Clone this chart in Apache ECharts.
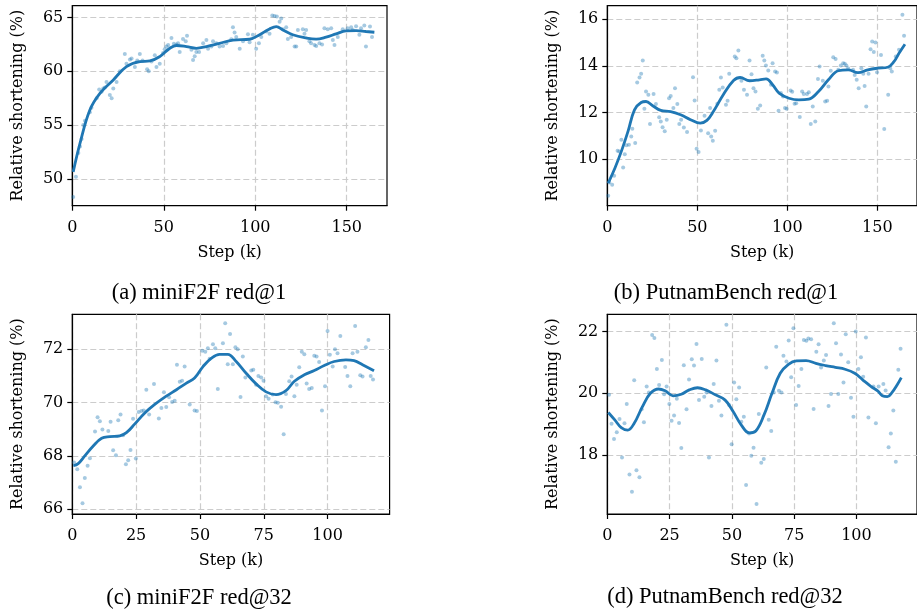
<!DOCTYPE html>
<html>
<head>
<meta charset="utf-8">
<script src="https://cdn.jsdelivr.net/npm/echarts@6/dist/echarts.min.js"></script>
<style>
html,body{margin:0;padding:0;background:#fff;}
#chart{width:917px;height:612px;}
</style>
</head>
<body>
<div id="chart"></div>
<script>
// ---------- Tick labels ----------
var xTicksLong = [0, 50, 100, 150];
var xTicksShort = [0, 25, 50, 75, 100];
var yTicksA = [50, 55, 60, 65];
var yTicksB = [10, 12, 14, 16];
var yTicksC = [66, 68, 70, 72];
var yTicksD = [18, 20, 22];

var captions = ['(a) miniF2F red@1', '(b) PutnamBench red@1', '(c) miniF2F red@32', '(d) PutnamBench red@32'];

// ---------- (a) miniF2F red@1 ----------
var aStep = [0.5,2,3.3,4.2,5.1,6,6.9,9.6,10.5,13.3,14.7,16,16.9,17.8,18.7,20.5,21.5,22.4,24.2,26,28.7,29.6,31.5,32.4,34.2,35.5,36.9,38.4,40.9,41.8,43.3,45.1,46,47.8,49.6,50.5,51.5,52.4,54.2,55.5,56.9,57.8,58.7,60.5,62,62.7,65.1,66,66.9,67.8,69.3,71.5,73.3,74.2,76,76.9,78.7,80.5,82.4,84.2,86.9,87.8,88.7,89.6,91.5,93.3,96,96.9,98.7,100.5,102,103.3,106,107.8,109.3,110.5,111.8,113.3,114.2,115.1,116.9,117.8,119.6,121.5,122.4,123.3,126,126.9,127.8,129.6,130.5,132.4,133.3,135.1,136.5,137.8,139.6,141.5,142.4,143.3,145.1,147.8,150.5,152.4,153.3,155.1,156.9,157.8,159.6,160.5,162.7,163.8];
var aShort = [48.3,50.2,52.4,53.0,53.7,55.0,55.4,56.2,56.6,57.5,58.3,58.1,58.4,58.5,59.0,57.8,57.5,58.4,59.0,60.0,61.6,60.7,61.1,61.2,60.4,61.0,61.6,61.0,60.2,60.0,60.9,61.5,60.4,60.7,61.7,62.05,62.3,62.45,63.1,62.55,62.5,62.6,61.8,63.0,62.8,63.3,62.0,61.05,61.4,61.8,61.8,62.6,62.9,62.1,62.3,62.8,62.6,62.3,62.35,62.6,62.98,64.1,63.6,63.2,62.1,62.8,63.45,62.7,63.4,62.1,62.6,63.2,63.7,63.5,65.2,65.15,65.1,64.6,64.9,63.9,64.1,63.0,63.2,62.3,62.3,63.85,63.9,63.5,63.85,62.8,62.6,62.45,62.35,62.6,62.5,64.0,63.9,64.0,62.9,62.45,63.2,63.9,64.0,64.1,63.85,64.2,63.4,64.0,64.25,62.3,64.16,63.2];
var aFitStep = [0.5,4.2,9.6,15.1,22.4,29.6,36.9,42.4,47.8,53.3,56.9,62.4,67.8,73.3,80.5,87.8,96.9,102.4,107.8,111.5,115.1,120.5,127.8,133.3,138.7,144.2,149.6,155.1,160.5,165.1];
var aFitVal = [50.65,53.3,56.4,57.95,59.2,60.43,60.9,60.96,61.37,62.14,62.4,62.3,62.14,62.3,62.6,62.9,62.98,63.4,63.94,64.16,63.85,63.4,63.1,62.99,63.17,63.48,63.76,63.79,63.7,63.63];

// ---------- (b) PutnamBench red@1 ----------
var bStep = [0.5,1.1,2.7,3.8,5.7,6.6,7.8,8.8,9.7,10.6,12,13.3,13.9,15.5,16.6,17.9,18.8,19.7,20.6,21.5,22.8,23.7,25.7,27,28.8,29.7,30.7,31.9,33,34.3,35.2,36.7,37.6,38.9,40,41,42.5,44.3,47.6,48.5,49.6,50.7,52,54,56,57.1,57.7,58.6,59.9,61.1,62.2,63.1,64.1,65.9,66.8,67.7,70.8,71.7,72.8,74.5,75.9,77.6,79,80.1,81.2,82.3,83.6,84.9,86.3,87.2,88.1,89.4,90.9,91.8,93.2,94.2,95.1,96.4,97.6,98.7,99.6,101.8,102.7,104,104.9,106.9,108.2,109.1,110.9,111.9,113,114.1,115.5,117,117.9,119.7,121,122.1,122.8,124.1,125.5,126.8,128.3,129.7,131,131.9,132.8,133.8,136.5,137.4,138.5,139.6,141.1,142.2,142.9,143.8,145.1,146.2,147.1,148,148.9,149.8,152,153.8,156,157.1,158,160.2,162,163.9,164.8];
var bShort = [8.43,9.0,8.9,9.29,10.36,10.33,10.83,9.64,10.21,10.59,10.61,10.97,11.3,10.69,13.29,13.5,13.66,14.23,12.16,12.9,12.76,11.5,12.79,12.36,11.79,11.61,11.37,11.19,11.69,12.61,12.71,12.19,13.04,12.36,11.5,11.69,11.36,11.16,13.51,12.51,10.44,10.3,11.23,11.86,11.11,12.19,10.97,10.79,11.21,12.37,12.97,13.5,13.07,12.33,12.5,13.66,14.4,14.33,14.66,13.36,12.97,12.76,14.23,13.64,13.04,12.9,12.16,12.3,14.43,14.23,14.01,13.8,13.19,14.11,13.76,13.71,12.07,12.83,12.69,12.19,12.16,12.94,12.89,12.37,12.4,11.8,12.9,12.79,12.79,12.87,11.5,12.26,11.61,13.44,13.97,13.36,12.47,12.5,13.11,13.79,14.37,14.29,13.83,14.01,14.11,14.09,14.01,13.9,13.83,13.61,13.4,13.04,13.9,13.66,13.14,12.26,13.66,14.71,15.04,14.59,15.0,13.73,14.47,11.29,12.76,13.9,13.76,14.4,14.69,16.19,15.29];
var bFitStep = [0.5,4.2,7.8,11.5,15.1,18.8,21.5,25.2,29.7,35.2,40.7,46.2,51.6,55.3,58.9,64.4,70.1,73.8,79,84.5,88.2,91.8,95.4,100.9,106.4,111.9,117.3,122.8,128.3,133.8,139.2,144.7,150.2,155.7,159.3,162,165.3];
var bFitVal = [8.97,9.61,10.33,11.19,12.11,12.43,12.47,12.29,12.09,12.04,11.9,11.69,11.54,11.66,12.04,12.76,13.37,13.5,13.36,13.4,13.44,13.19,12.83,12.61,12.54,12.57,12.9,13.4,13.79,13.83,13.71,13.83,13.9,13.94,14.19,14.54,14.93];

// ---------- (c) miniF2F red@32 ----------
var cStep = [0.7,1.95,3,4,4.9,6,6.9,8.9,9.9,10.8,11.8,14.1,15,16,17.1,18,18.9,19.9,21,21.9,22.8,23.8,24.9,26,27.1,28,29,30.1,32,33.9,34.9,35.9,36.8,37.9,39.1,40.1,41,42.1,43,44,46,47.9,48.8,50.9,52.1,53.1,53.8,55.1,56,57,59,59.9,60.9,61.8,62.9,63.9,64.8,65.9,66.8,67.8,70.1,70.9,72,72.9,74,74.9,75.9,76.9,78.5,79.6,80.5,81.8,82.8,83.7,85,85.9,87,87.9,88.9,89.9,90.9,91.8,92.8,93.8,94.8,95.7,96.7,97.8,99,100,100.9,102,102.9,103.9,105,106.9,107.8,108.9,109.8,110.8,111.7,112.8,113.7,115,116,116.9,117.8];
var cShort = [67.75,67.5,66.82,66.22,67.17,67.63,67.91,68.91,69.45,69.3,68.99,68.93,69.28,68.21,68.02,69.34,69.55,68.77,67.69,67.84,68.22,69.39,67.9,69.65,69.68,69.7,70.48,69.55,70.7,69.4,69.8,70.39,69.83,70.2,70.02,70.07,71.42,70.78,70.82,71.35,69.93,69.7,69.68,71.94,71.91,72.04,71.64,72.19,72.04,70.51,72.22,72.97,71.44,72.57,71.44,72.07,72.0,70.21,71.73,70.94,71.2,71.23,70.67,71.0,70.94,70.82,70.24,70.14,70.3,70.01,69.99,69.84,68.81,70.32,70.8,70.98,70.24,70.67,71.32,71.91,71.81,70.71,70.51,70.55,71.76,71.73,71.52,69.7,70.61,72.68,71.79,71.35,72.0,71.85,72.5,71.33,71.0,70.61,71.85,72.87,71.91,71.02,70.98,72.07,72.35,71.0,70.86];
var cFitStep = [0.4,2.3,4.9,8.2,11.5,14.7,18.6,21.2,24.5,28.4,32.3,36.8,40.8,44.7,47.9,51.2,54.4,57.7,60.9,64.2,68.1,72,75.9,79.8,83.7,87,90.9,94.8,98.7,102.6,107.2,110.4,113.7,118.2];
var cFitVal = [67.63,67.71,68.0,68.37,68.66,68.72,68.75,68.87,69.2,69.61,69.93,70.24,70.48,70.73,70.92,71.35,71.66,71.81,71.81,71.54,71.1,70.7,70.4,70.3,70.45,70.8,71.04,71.2,71.39,71.54,71.6,71.57,71.42,71.19];

// ---------- (d) PutnamBench red@32 ----------
var dStep = [0.7,1.7,2.7,3.8,4.9,5.9,6.9,7.8,8.9,9.9,10.8,11.7,12.9,13.8,14.7,15.8,16.7,18,18.9,19.9,20.8,21.9,22.8,23.8,24.9,25.8,26.8,27.9,28.8,29.7,30.7,31.8,32.8,33.9,34.8,35.8,36.8,37.9,38.9,39.8,40.8,41.8,42.7,43.8,44.8,45.8,47.8,48.9,49.9,50.9,51.8,52.9,53.8,54.8,55.7,56.9,57.8,58.7,59.9,60.8,61.8,62.8,63.8,64.8,65.8,66.8,67.8,68.9,69.9,70.7,71.9,72.8,73.8,74.7,75.8,76.8,77.9,78.9,79.9,80.7,81.8,82.8,83.9,84.8,85.8,86.9,87.8,88.8,89.8,90.9,91.8,92.7,93.8,94.8,95.7,96.7,97.8,98.8,99.7,100.8,101.8,102.7,103.8,104.8,106.8,107.8,108.9,110.8,111.7,112.9,113.8,114.8,115.8,116.8,117.7];
var dShort = [19.95,19.01,18.52,18.74,19.17,17.92,19.03,19.65,17.37,16.81,20.42,17.51,17.28,19.48,19.06,20.22,20.03,21.89,21.79,20.79,20.27,21.08,19.97,20.22,19.65,19.11,19.28,19.82,19.04,18.23,20.91,19.48,20.45,21.1,20.9,21.6,19.78,21.11,19.89,20.03,17.92,19.59,20.3,21.06,19.76,19.28,22.22,19.62,18.35,20.35,19.81,20.19,19.08,19.24,17.03,18.7,17.98,18.24,16.41,19.33,17.75,17.87,20.84,19.14,18.78,20.03,21.51,20.08,20.03,21.22,21.03,21.71,20.52,22.11,19.62,20.24,20.79,21.73,21.7,21.78,21.75,19.49,21.35,21.59,20.84,21.06,21.24,19.59,19.98,22.27,21.62,19.98,21.26,20.35,21.91,21.01,19.86,19.24,22.0,20.79,21.17,20.54,21.81,19.22,20.22,19.03,20.22,20.3,20.09,18.25,18.7,19.44,17.78,20.76,21.44];
var dFitStep = [0.4,3,5.6,8.2,10.8,14.1,17.3,20.6,23.2,26.4,29.7,32.9,36.2,39.5,43.4,47.3,50.5,53.8,57,59.6,62.9,66.1,69.4,72.7,75.9,79.8,83.7,87.6,91.5,95.4,99.3,102.6,105.9,108.5,110.4,112.4,114.3,116.3,118];
var dFitVal = [19.38,19.14,18.89,18.81,19.03,19.57,20.0,20.14,20.08,19.92,19.97,20.11,20.18,20.11,19.95,19.78,19.41,18.97,18.72,18.78,19.3,20.0,20.65,20.94,21.05,21.06,20.97,20.9,20.84,20.78,20.65,20.43,20.22,20.08,19.92,19.89,20.03,20.27,20.51];

// ---------- build ----------
var BLUE = '#1f77b4';
var TICK_FONT = 'DejaVu Serif';
var panels = [
  {x: aStep, y: aShort, fx: aFitStep, fy: aFitVal, xt: xTicksLong, yt: yTicksA, xmin: 0, xmax: 172, ymin: 47.5, ymax: 66.1,
   grid: {left: 72.3, top: 5.7, width: 314.7, height: 200}},
  {x: bStep, y: bShort, fx: bFitStep, fy: bFitVal, xt: xTicksLong, yt: yTicksB, xmin: 0, xmax: 172, ymin: 8.0, ymax: 16.58,
   grid: {left: 607.3, top: 5.7, width: 314.5, height: 200}},
  {x: cStep, y: cShort, fx: cFitStep, fy: cFitVal, xt: xTicksShort, yt: yTicksC, xmin: 0, xmax: 124.3, ymin: 65.82, ymax: 73.31,
   grid: {left: 72.3, top: 314.3, width: 317.3, height: 199.7}},
  {x: dStep, y: dShort, fx: dFitStep, fy: dFitVal, xt: xTicksShort, yt: yTicksD, xmin: 0, xmax: 124.3, ymin: 16.09, ymax: 22.56,
   grid: {left: 607.3, top: 314.3, width: 317.4, height: 199.7}}
];

var grids = [], xAxes = [], yAxes = [], series = [];
var gridLineStyle = {color: '#cccccc', width: 1.2, type: [6, 3]};
panels.forEach(function (p, i) {
  grids.push({left: p.grid.left, top: p.grid.top, width: p.grid.width, height: p.grid.height,
    show: true, borderColor: '#000', borderWidth: 1.2, backgroundColor: 'transparent', containLabel: false});
  xAxes.push({type: 'value', gridIndex: i, min: p.xmin, max: p.xmax,
    name: 'Step (k)', nameLocation: 'middle', nameGap: 39,
    nameTextStyle: {fontFamily: TICK_FONT, fontSize: 16, color: '#000'},
    axisLine: {show: true, onZero: false, lineStyle: {color: '#000', width: 1.2}},
    axisTick: {show: true, inside: false, length: 5, lineStyle: {color: '#000', width: 1.2}, customValues: p.xt},
    axisLabel: {fontFamily: TICK_FONT, fontSize: 16, color: '#000', margin: 14, customValues: p.xt,
      showMinLabel: true, showMaxLabel: true},
    splitLine: {show: true, lineStyle: gridLineStyle}
  });
  yAxes.push({type: 'value', gridIndex: i, min: p.ymin, max: p.ymax,
    name: 'Relative shortening (%)', nameLocation: 'middle', nameGap: 46, nameRotate: 90,
    nameTextStyle: {fontFamily: TICK_FONT, fontSize: 16, color: '#000'},
    axisLine: {show: true, onZero: false, lineStyle: {color: '#000', width: 1.2}},
    axisTick: {show: true, inside: false, length: 5, lineStyle: {color: '#000', width: 1.2}, customValues: p.yt},
    axisLabel: {fontFamily: TICK_FONT, fontSize: 16, color: '#000', margin: 9, customValues: p.yt},
    splitLine: {show: true, lineStyle: gridLineStyle}
  });
  var pts = p.x.map(function (v, k) { return [v, p.y[k]]; });
  var fit = p.fx.map(function (v, k) { return [v, p.fy[k]]; });
  series.push({type: 'scatter', xAxisIndex: i, yAxisIndex: i, data: pts, symbolSize: 4,
    itemStyle: {color: BLUE, opacity: 0.4}, silent: true, z: 2});
  series.push({type: 'line', xAxisIndex: i, yAxisIndex: i, data: fit, smooth: 0.4, showSymbol: false,
    lineStyle: {color: BLUE, width: 2.8}, silent: true, z: 3});
});

var capPos = [[199, 293], [726, 293], [199, 598], [725, 597]];
var graphics = captions.map(function (t, i) {
  return {type: 'text', x: capPos[i][0], y: capPos[i][1], silent: true,
    style: {text: t, fontFamily: 'Liberation Serif', fontSize: 22.5, fill: '#000',
      textAlign: 'center', textVerticalAlign: 'middle'}};
});

var chart = echarts.init(document.getElementById('chart'), null, {renderer: 'canvas'});
chart.setOption({
  animation: false,
  backgroundColor: '#fff',
  grid: grids, xAxis: xAxes, yAxis: yAxes, series: series,
  graphic: graphics
});
</script>
</body>
</html>
